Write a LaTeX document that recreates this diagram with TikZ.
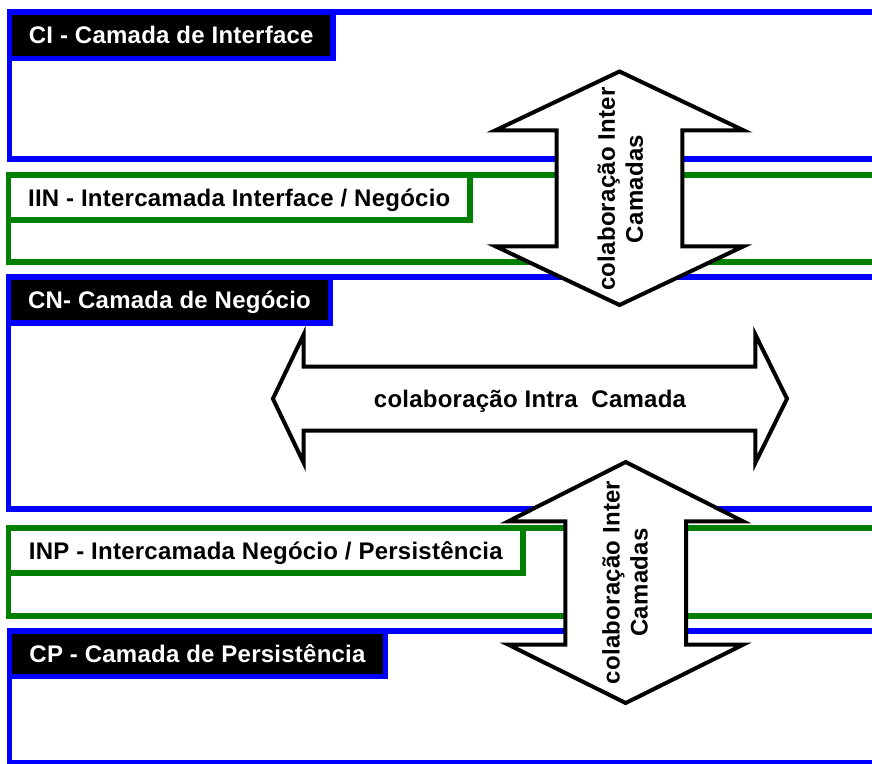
\documentclass[tikz,border=0pt]{standalone}
\usepackage{fontspec}
\setmainfont{Liberation Sans}
\newfontfamily\labelfont[LetterSpace=1]{Liberation Sans}
\newcommand\labeltext{\labelfont\bfseries\fontsize{24}{28}\selectfont}
\definecolor{layerblue}{RGB}{0,0,255}
\definecolor{layergreen}{RGB}{0,128,0}
\begin{document}
\begin{tikzpicture}[x=1pt, y=-1pt,
  every node/.style={inner sep=0pt, outer sep=0pt},
  layer/.style={draw=#1, line width=5.5pt, anchor=north west, minimum width=875pt},
  darklabel/.style={draw=layerblue, line width=5.5pt, fill=black, text=white,
    anchor=north west, font=\labeltext, text height=17pt, text depth=0pt},
  lightlabel/.style={draw=layergreen, line width=5.5pt, fill=white, text=black,
    anchor=north west, font=\labeltext, text height=17pt, text depth=0pt},
  bigarrow/.style={draw=black, fill=white, line width=4pt, line join=miter, miter limit=10},
  arrowtext/.style={font=\labeltext, text=black}
]
\useasboundingbox (0,0) rectangle (872,763);
\clip (0,0) rectangle (872,763);

% layers (open to the right)
\node[layer=layerblue,  minimum height=147pt] (ci)  at (9.5,12)  {};
\node[layer=layergreen, minimum height=87pt]  (iin) at (8.5,175) {};
\node[layer=layerblue,  minimum height=232pt] (cn)  at (8.5,277) {};
\node[layer=layergreen, minimum height=88pt]  (inp) at (8.6,528) {};
\node[layer=layerblue,  minimum height=132pt] (cp)  at (9.5,631) {};

% horizontal double arrow inside the business layer
\draw[bigarrow] (272.9,398.7) -- (303.7,334.5) -- (303.7,366.7) -- (755.3,366.7)
  -- (755.3,334.5) -- (787,398.7) -- (755.3,462.9) -- (755.3,430.7)
  -- (303.7,430.7) -- (303.7,462.9) -- cycle;

% layer titles
\node[darklabel,  minimum width=323.5pt, minimum height=46.5pt] (ciL)  at (ci.north west)  {CI - Camada de Interface};
\node[lightlabel, minimum width=461.5pt, minimum height=45pt]   (iinL) at (iin.north west) {IIN - Intercamada Interface / Negócio};
\node[darklabel,  minimum width=322pt,   minimum height=46pt]   (cnL)  at (cn.north west)  {CN- Camada de Negócio};
\node[lightlabel, minimum width=514.4pt, minimum height=45pt]   (inpL) at (inp.north west) {INP - Intercamada Negócio / Persistência};
\node[darklabel,  minimum width=376pt,   minimum height=45.5pt] (cpL)  at (cp.north west)  {CP - Camada de Persistência};

% vertical double arrows across layers
\draw[bigarrow] (619.5,71.5) -- (743.5,130.3) -- (682.3,130.3) -- (682.3,246.3)
  -- (743.5,246.3) -- (619.5,305) -- (495.5,246.3) -- (556.7,246.3)
  -- (556.7,130.3) -- (495.5,130.3) -- cycle;
\draw[bigarrow] (625.7,462) -- (743,521.3) -- (686,521.3) -- (686,644.7)
  -- (743,644.7) -- (625.7,703) -- (508.4,644.7) -- (565.4,644.7)
  -- (565.4,521.3) -- (508.4,521.3) -- cycle;

% arrow captions
\node[arrowtext, anchor=base] (intra) at (530,407) {colaboração Intra~ Camada};
\node[arrowtext, rotate=90, align=center] (interUp) at (620.3,189) {colaboração Inter\\Camadas};
\node[arrowtext, rotate=90, align=center] (interDown) at (625,582.5) {colaboração Inter\\Camadas};
\end{tikzpicture}
\end{document}
